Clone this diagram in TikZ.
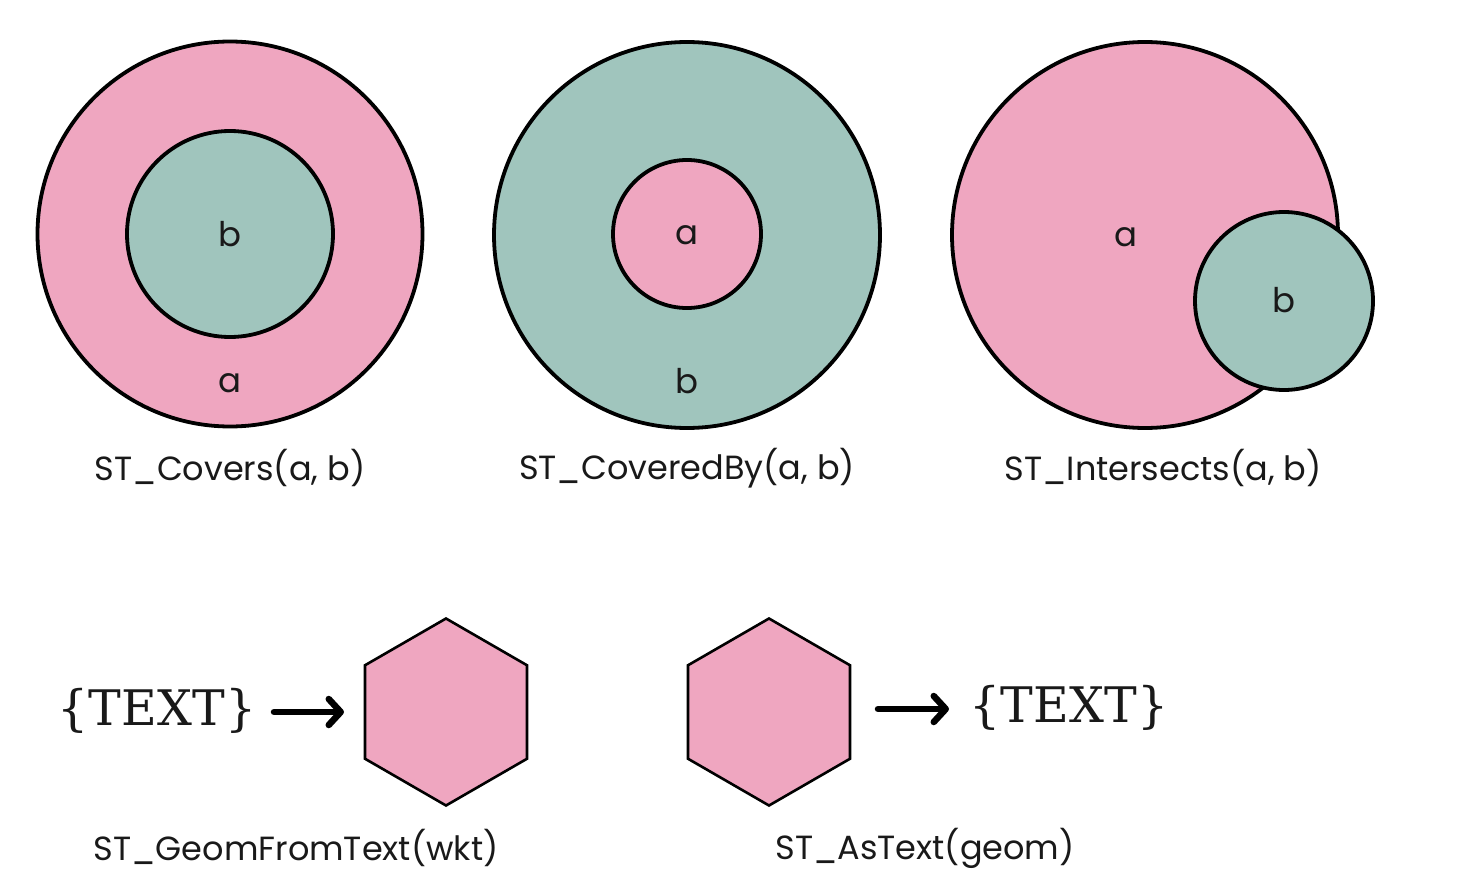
\documentclass[tikz,border=0pt]{standalone}
\usepackage{fontspec}
\setmainfont{Poppins}
\newfontfamily\slabfont{DejaVu Serif}
\usetikzlibrary{arrows.meta,shapes.geometric}
\definecolor{rosefill}{RGB}{239,166,192}
\definecolor{tealfill}{RGB}{160,197,189}
\tikzset{
  ring/.style={circle, draw=black, line width=3.8pt, inner sep=0pt, minimum size=#1},
  pinkring/.style={ring=#1, fill=rosefill},
  tealring/.style={ring=#1, fill=tealfill},
  inlabel/.style={font=\fontsize{34}{38}\selectfont, text=black!90},
  caption/.style={font=\fontsize{33.5}{38}\selectfont, text=black!90},
  hexa/.style={regular polygon, regular polygon sides=6, shape border rotate=30, minimum size=187pt, inner sep=0pt, draw=black, line width=2.6pt, fill=rosefill},
  bigtext/.style={font=\slabfont\fontsize{49}{54}\selectfont, text=black!90},
  fatarrow/.style={line width=6.5pt, line cap=round, -{Straight Barb[length=12pt,width=26pt,line cap=round,line join=round]}}
}
\begin{document}
\begin{tikzpicture}[x=1pt,y=-1pt]
\useasboundingbox[fill=white] (0,0) rectangle (1466,896);
% ST_Covers
\node[pinkring=385pt] (c1a) at (230,234) {};
\node[tealring=206pt] (c1b) at (230,234) {};
\node[inlabel] (t1b) at (230,234) {b};
\node[inlabel] (t1a) at (230,383) {a};
\node[caption] (cap1) at (230,468) {ST\_Covers(a, b)};
% ST_CoveredBy
\node[tealring=386pt] (c2b) at (687,235) {};
\node[pinkring=148pt] (c2a) at (687,234) {};
\node[inlabel] (t2a) at (687,235) {a};
\node[inlabel] (t2b) at (687,381) {b};
\node[caption] (cap2) at (687,468) {ST\_CoveredBy(a, b)};
% ST_Intersects
\node[pinkring=386pt] (c3a) at (1145,235) {};
\node[tealring=178pt] (c3b) at (1284,301) {};
\node[inlabel] (t3a) at (1126,237) {a};
\node[inlabel] (t3b) at (1284,300) {b};
\node[caption] (cap3) at (1163,468) {ST\_Intersects(a, b)};
% ST_GeomFromText
\node[bigtext] (txt1) at (157,711) {\{TEXT\}};
\node[hexa] (hex1) at (446,712) {};
\draw[fatarrow] (274,712) -- (344,712);
\node[caption] (cap4) at (296,848) {ST\_GeomFromText(wkt)};
% ST_AsText
\node[hexa] (hex2) at (769,712) {};
\node[bigtext] (txt2) at (1069,708) {\{TEXT\}};
\draw[fatarrow] (878,709) -- (949,709);
\node[caption] (cap5) at (925,848) {ST\_AsText(geom)};
\end{tikzpicture}
\end{document}
